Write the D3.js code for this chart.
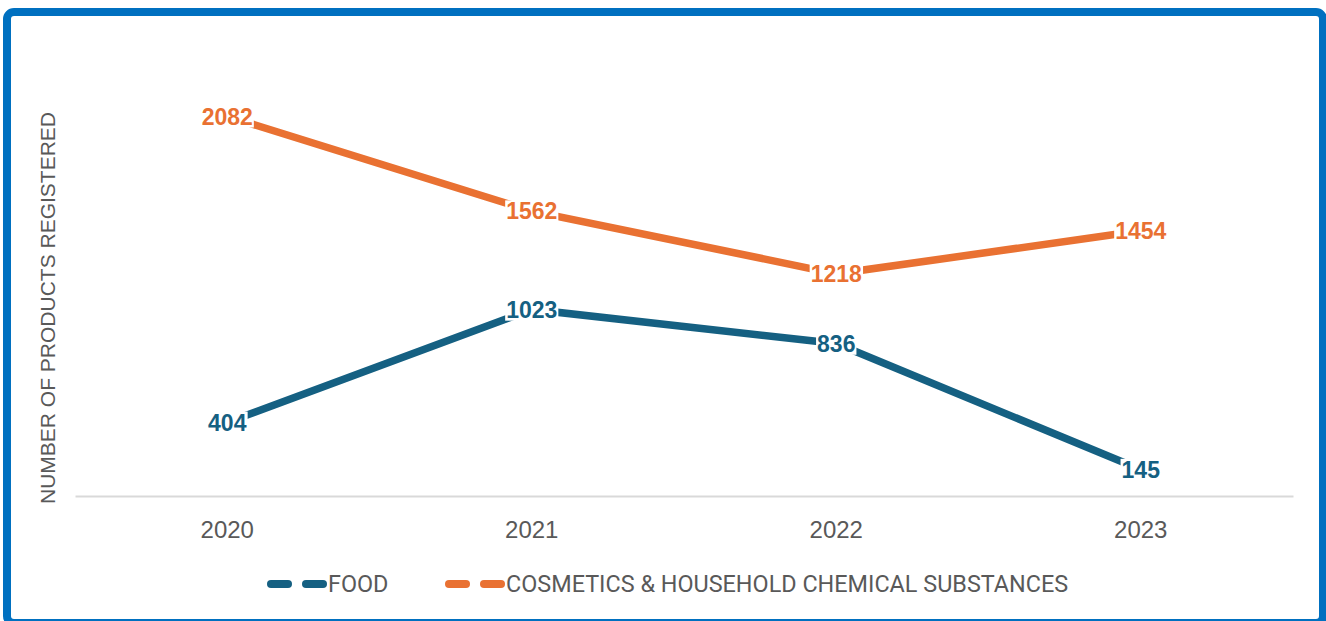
<!DOCTYPE html>
<html>
<head>
<meta charset="utf-8">
<script src="https://cdn.jsdelivr.net/npm/d3@7"></script>
<style>
  body { margin: 0; background: #fff; }
  svg { display: block; }
</style>
</head>
<body>
<div id="chart"></div>
<script>
var years = ["2020", "2021", "2022", "2023"];
var food = [404, 1023, 836, 145];
var cosmetics = [2082, 1562, 1218, 1454];
var seriesNames = ["FOOD", "COSMETICS & HOUSEHOLD CHEMICAL SUBSTANCES"];
var seriesColors = ["#156082", "#E97132"];

var width = 1326, height = 621;
var svg = d3.select("#chart").append("svg").attr("width", width).attr("height", height);

// frame
svg.append("rect").attr("x", 7).attr("y", 12).attr("width", 1316).attr("height", 611)
  .attr("rx", 7).attr("fill", "#fff").attr("stroke", "#0070C0").attr("stroke-width", 8);

var x = d3.scaleBand().domain(years).range([75, 1293]);
var y = d3.scaleLinear().domain([0, 2500]).range([496, 40]);

// category axis
var xAxis = svg.append("g").attr("transform", "translate(0,496)")
  .call(d3.axisBottom(x).tickSize(0).tickPadding(25));
xAxis.select(".domain").attr("stroke", "#D9D9D9").attr("stroke-width", 2);
xAxis.selectAll("text").attr("font-family", "Liberation Sans, Arial, sans-serif")
  .attr("font-size", 24).attr("fill", "#595959");

// y title
svg.append("text")
  .attr("transform", "translate(55,308) rotate(-90)")
  .attr("text-anchor", "middle")
  .attr("font-family", "Liberation Sans, Arial, sans-serif")
  .attr("font-size", 21).attr("fill", "#595959")
  .text("NUMBER OF PRODUCTS REGISTERED");

var line = d3.line()
  .x(function(d, i) { return x(years[i]) + x.bandwidth() / 2; })
  .y(function(d) { return y(d); });

[food, cosmetics].forEach(function(s, k) {
  svg.append("path").attr("d", line(s)).attr("fill", "none")
    .attr("stroke", seriesColors[k]).attr("stroke-width", 7.5);
});

// data labels with white background
[food, cosmetics].forEach(function(s, k) {
  s.forEach(function(v, i) {
    var g = svg.append("g");
    var bg = g.append("rect").attr("fill", "#fff");
    var t = g.append("text")
      .attr("x", x(years[i]) + x.bandwidth() / 2)
      .attr("y", y(v))
      .attr("dy", "0.36em")
      .attr("text-anchor", "middle")
      .attr("font-family", "Liberation Sans, Arial, sans-serif")
      .attr("font-weight", "bold")
      .attr("font-size", 23)
      .attr("fill", seriesColors[k])
      .text(v);
    var b = t.node().getBBox();
    bg.attr("x", b.x - 1).attr("y", b.y + 2).attr("width", b.width + 2).attr("height", b.height - 4);
  });
});

// legend
var legendX = [267, 445];
seriesNames.forEach(function(n, k) {
  var lg = svg.append("g").attr("transform", "translate(" + legendX[k] + ",584)");
  lg.append("line").attr("x1", 4).attr("x2", 21).attr("stroke", seriesColors[k])
    .attr("stroke-width", 8).attr("stroke-linecap", "round");
  lg.append("line").attr("x1", 39).attr("x2", 56).attr("stroke", seriesColors[k])
    .attr("stroke-width", 8).attr("stroke-linecap", "round");
  lg.append("text").attr("x", 61).attr("dy", "0.36em")
    .attr("font-family", "Roboto, Liberation Sans, sans-serif")
    .attr("font-size", 23.4).attr("fill", "#595959").text(n);
});
</script>
</body>
</html>
